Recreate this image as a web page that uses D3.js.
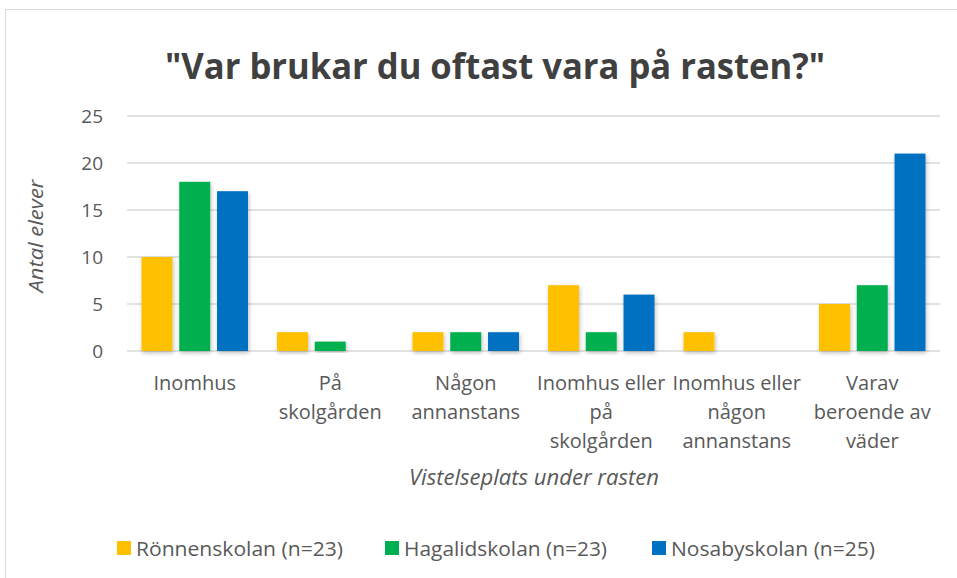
<!DOCTYPE html>
<html>
<head>
<meta charset="utf-8">
<script src="https://cdn.jsdelivr.net/npm/d3@7"></script>
<style>
  body { margin: 0; background: #fff; }
  svg { font-family: "Open Sans", "Liberation Sans", sans-serif; }
</style>
</head>
<body>
<svg id="chart" width="957" height="578"></svg>
<script>
const categories = [
  ["Inomhus"],
  ["På", "skolgården"],
  ["Någon", "annanstans"],
  ["Inomhus eller", "på", "skolgården"],
  ["Inomhus eller", "någon", "annanstans"],
  ["Varav", "beroende av", "väder"]
];
const seriesNames = ["Rönnenskolan (n=23)", "Hagalidskolan (n=23)", "Nosabyskolan (n=25)"];
const colors = ["#FFC000", "#00B050", "#0070C0"];
const ronnen = [10, 2, 2, 7, 2, 5];
const hagalid = [18, 1, 2, 2, 0, 7];
const nosaby = [17, 0, 2, 6, 0, 21];
const yTicks = [0, 5, 10, 15, 20, 25];

const series = [ronnen, hagalid, nosaby];

const svg = d3.select("#chart");

// chart frame
svg.append("rect")
    .attr("x", 5.5).attr("y", 9.5)
    .attr("width", 980).attr("height", 600)
    .attr("fill", "#fff")
    .attr("stroke", "#d9d9d9");

const defs = svg.append("defs");
defs.append("filter").attr("id", "shadow")
    .attr("x", "-30%").attr("y", "-10%").attr("width", "160%").attr("height", "130%")
  .append("feDropShadow")
    .attr("dx", 1).attr("dy", 2)
    .attr("stdDeviation", 2)
    .attr("flood-color", "#000")
    .attr("flood-opacity", 0.25);

const plot = { left: 127, right: 940, top: 116, bottom: 351 };

const x0 = d3.scaleBand()
    .domain(d3.range(categories.length))
    .range([plot.left, plot.right])
    .padding(0);

const x1 = d3.scaleBand()
    .domain(d3.range(series.length))
    .range([14.5, x0.bandwidth() - 14.5])
    .paddingInner(0.18);

const y = d3.scaleLinear()
    .domain([0, 25])
    .range([plot.bottom, plot.top]);

// gridlines
svg.append("g")
  .selectAll("line")
  .data(yTicks)
  .join("line")
    .attr("x1", plot.left).attr("x2", plot.right)
    .attr("y1", d => y(d)).attr("y2", d => y(d))
    .attr("stroke", "#d9d9d9")
    .attr("stroke-width", 1.5);

// y axis labels
const yAxis = d3.axisLeft(y).tickValues(yTicks).tickSize(0).tickPadding(0);
svg.append("g")
    .attr("transform", `translate(${plot.left - 24},0)`)
    .call(yAxis)
    .call(g => g.select(".domain").remove())
    .selectAll("text")
    .attr("font-size", 19)
    .attr("fill", "#595959")
    .attr("font-family", "Open Sans, sans-serif");

// bars
const groups = svg.append("g")
  .selectAll("g")
  .data(categories.map((c, i) => i))
  .join("g")
    .attr("transform", i => `translate(${x0(i)},0)`);

groups.selectAll("rect")
  .data(i => series.map((s, j) => ({ j: j, v: s[i] })).filter(d => d.v > 0))
  .join("rect")
    .attr("x", d => x1(d.j))
    .attr("y", d => y(d.v))
    .attr("width", x1.bandwidth())
    .attr("height", d => y(0) - y(d.v))
    .attr("fill", d => colors[d.j])
    .attr("filter", "url(#shadow)");

// x labels
svg.append("g")
  .selectAll("text")
  .data(categories)
  .join("text")
    .attr("text-anchor", "middle")
    .attr("font-size", 20)
    .attr("fill", "#595959")
    .attr("transform", (d, i) => `translate(${x0(i) + x0.bandwidth() / 2},390)`)
  .selectAll("tspan")
  .data(d => d)
  .join("tspan")
    .attr("x", 0)
    .attr("y", (d, k) => k * 29)
    .text(d => d);

// title
svg.append("text")
    .attr("x", 495).attr("y", 79)
    .attr("text-anchor", "middle")
    .attr("font-size", 35)
    .attr("font-weight", "bold")
    .attr("fill", "#404040")
    .attr("textLength", 660)
    .attr("lengthAdjust", "spacingAndGlyphs")
    .text("\"Var brukar du oftast vara på rasten?\"");

// axis titles
svg.append("text")
    .attr("transform", "translate(43,236) rotate(-90)")
    .attr("text-anchor", "middle")
    .attr("font-size", 20)
    .attr("font-style", "italic")
    .attr("fill", "#595959")
    .attr("textLength", 113)
    .attr("lengthAdjust", "spacingAndGlyphs")
    .text("Antal elever");

svg.append("text")
    .attr("x", 534).attr("y", 485)
    .attr("text-anchor", "middle")
    .attr("font-size", 21)
    .attr("font-style", "italic")
    .attr("fill", "#595959")
    .attr("textLength", 250)
    .attr("lengthAdjust", "spacingAndGlyphs")
    .text("Vistelseplats under rasten");

// legend
const legendX = [117, 385, 652];
const legendW = [207, 203, 204];
const legend = svg.append("g")
  .selectAll("g")
  .data(seriesNames)
  .join("g")
    .attr("transform", (d, i) => `translate(${legendX[i]},541)`);

legend.append("rect")
    .attr("y", 0)
    .attr("width", 14).attr("height", 14)
    .attr("fill", (d, i) => colors[i]);

legend.append("text")
    .attr("x", 19).attr("y", 15)
    .attr("font-size", 20)
    .attr("fill", "#595959")
    .attr("textLength", (d, i) => legendW[i])
    .attr("lengthAdjust", "spacingAndGlyphs")
    .text(d => d);
</script>
</body>
</html>
